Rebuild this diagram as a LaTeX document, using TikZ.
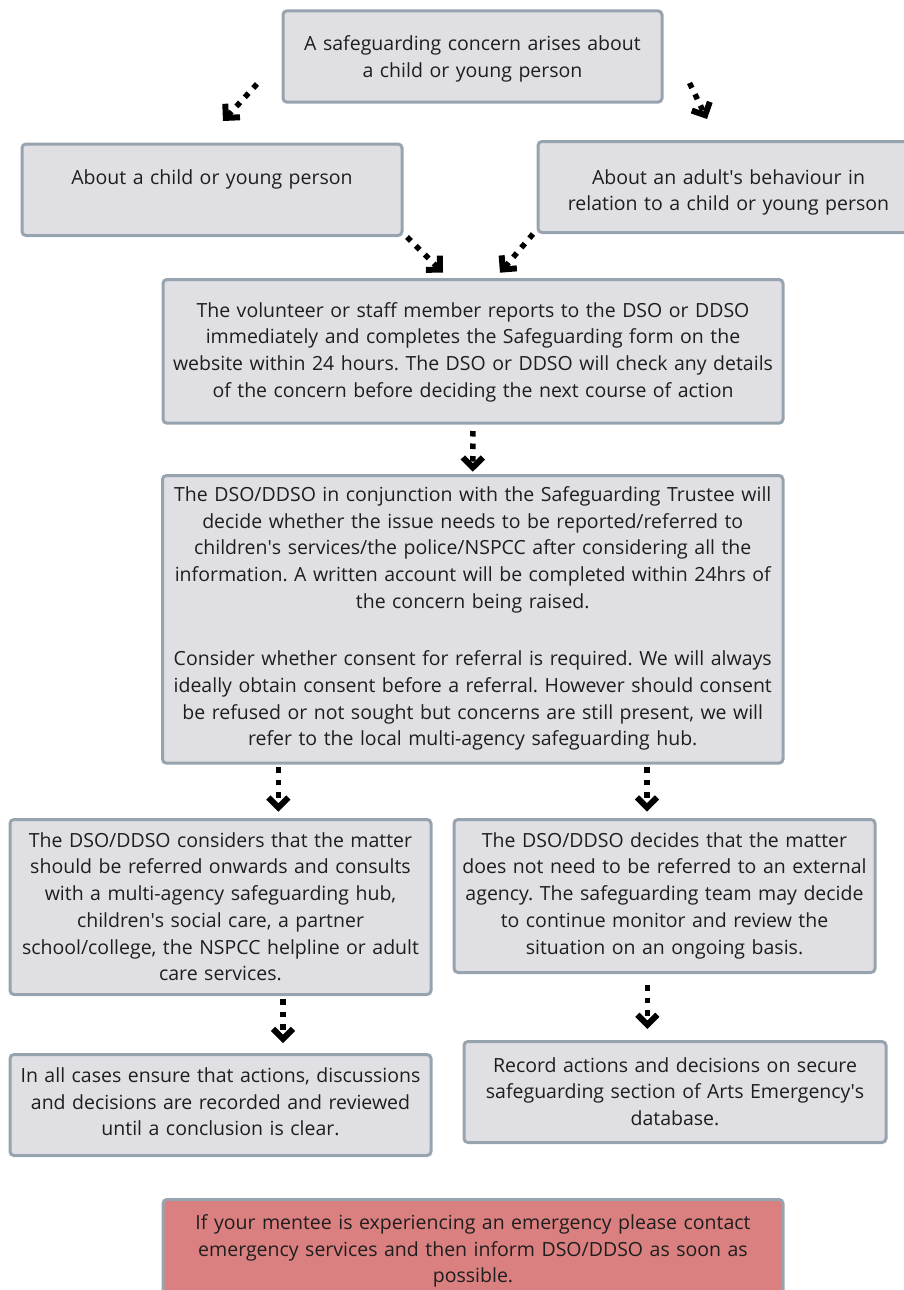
\documentclass[tikz,border=0pt]{standalone}
\usepackage{fontspec}
\setmainfont{Open Sans}
\usetikzlibrary{arrows.meta}
\definecolor{boxfill}{HTML}{E0DFE4}
\definecolor{boxedge}{HTML}{97A4AF}
\definecolor{alertfill}{HTML}{DB8080}
\definecolor{txt}{HTML}{1E1E1E}
\newcommand\apo{\textquotesingle}
\tikzset{
  box/.style={draw=boxedge, line width=3pt, fill=boxfill, rounded corners=4pt,
    inner sep=0pt, align=center, anchor=north, text=txt,
    font=\fontsize{19.5}{26.7}\selectfont\frenchspacing},
  alertbox/.style={box, fill=alertfill},
  flow/.style={line width=5.5pt, dash pattern=on 5.5pt off 7pt,
    -{Straight Barb[length=10pt,width=20pt,line width=6pt]}},
}
\begin{document}
\begin{tikzpicture}[x=1pt,y=-1pt]
\useasboundingbox (0,0) rectangle (903,1290);

\node[box, text width=379pt, text height=40pt, text depth=51.4pt] (top) at (472.5,9.3)
  {A safeguarding concern arises about\\a child or young person};
\node[box, text width=380pt, text height=40.2pt, text depth=51.3pt] (child) at (212,142.5)
  {About a child or young person};
\node[box, text width=381pt, text height=42.7pt, text depth=48.3pt] (adult) at (728.5,140)
  {About an adult\apo s behaviour in\\relation to a child or young person};
\node[box, text width=620pt, text height=37.7pt, text depth=106pt] (report) at (473,278)
  {The volunteer or staff member reports to the DSO or DDSO\\
   immediately and completes the Safeguarding form on the\\
   website within 24 hours. The DSO or DDSO will check any details\\
   of the concern before deciding the next course of action};
\node[box, text width=620.5pt, text height=26pt, text depth=261.7pt] (decide) at (472.75,474)
  {The DSO/DDSO in conjunction with the Safeguarding Trustee will\\
   decide whether the issue needs to be reported/referred to\\
   children\apo s services/the police/NSPCC after considering all the\\
   information. A written account will be completed within 24hrs of\\
   the concern being raised.\\[30.6pt]
   Consider whether consent for referral is required. We will always\\
   ideally obtain consent before a referral. However should consent\\
   be refused or not sought but concerns are still present, we will\\
   refer to the local multi-agency safeguarding hub.};
\node[box, text width=421pt, text height=27.7pt, text depth=147.3pt] (refer) at (220.5,818)
  {The DSO/DDSO considers that the matter\\
   should be referred onwards and consults\\
   with a multi-agency safeguarding hub,\\
   children\apo s social care, a partner\\
   school/college, the NSPCC helpline or adult\\
   care services.};
\node[box, text width=421pt, text height=27.7pt, text depth=125.3pt] (norefer) at (664.5,818)
  {The DSO/DDSO decides that the matter\\
   does not need to be referred to an external\\
   agency. The safeguarding team may decide\\
   to continue monitor and review the\\
   situation on an ongoing basis.};
\node[box, text width=421pt, text height=28pt, text depth=73pt] (allcases) at (220.5,1053)
  {In all cases ensure that actions, discussions\\
   and decisions are recorded and reviewed\\
   until a conclusion is clear.};
\node[box, text width=422pt, text height=30.7pt, text depth=70.3pt] (record) at (675,1040)
  {Record actions and decisions on secure\\
   safeguarding section of Arts Emergency\apo s\\
   database.};
\node[alertbox, text width=620pt, text height=30pt, text depth=77pt] (alert) at (473,1198)
  {If your mentee is experiencing an emergency please contact\\
   emergency services and then inform DSO/DDSO as soon as\\
   possible.};

\coordinate (a1s) at (257,84);    \coordinate (a1e) at (223,121);
\coordinate (a2s) at (689.5,83);  \coordinate (a2e) at (707,119);
\coordinate (a3s) at (407,237);   \coordinate (a3e) at (443,272.7);
\coordinate (a4s) at (533,234);   \coordinate (a4e) at (500,272.7);
\coordinate (a6s) at (278.3,767); \coordinate (a6e) at (278.3,811.7);
\coordinate (a7s) at (647,767);   \coordinate (a7e) at (647,811.7);
\coordinate (a8s) at (283,999);   \coordinate (a8e) at (283,1043);
\coordinate (a9s) at (647.3,985); \coordinate (a9e) at (647.3,1029);

\draw[flow] (a1s) -- (a1e);
\draw[flow] (a2s) -- (a2e);
\draw[flow] (a3s) -- (a3e);
\draw[flow] (a4s) -- (a4e);
\draw[flow, shorten <=6.3pt, shorten >=2.3pt] (report.south) -- (decide.north);
\draw[flow] (a6s) -- (a6e);
\draw[flow] (a7s) -- (a7e);
\draw[flow] (a8s) -- (a8e);
\draw[flow] (a9s) -- (a9e);
\end{tikzpicture}
\end{document}
